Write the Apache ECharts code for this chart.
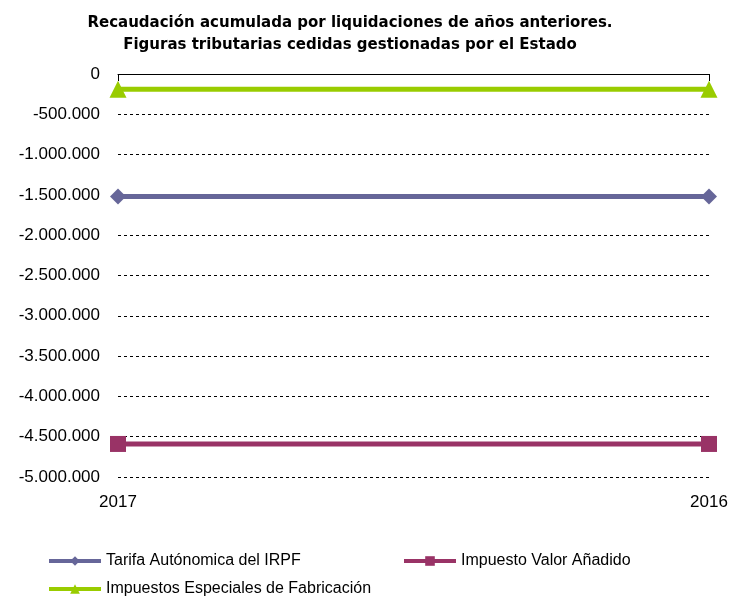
<!DOCTYPE html>
<html>
<head>
<meta charset="utf-8">
<script src="https://cdn.jsdelivr.net/npm/echarts@6/dist/echarts.min.js"></script>
<style>
  html, body { margin: 0; padding: 0; background: #fff; }
  #chart { width: 731px; height: 598px; }
</style>
</head>
<body>
<div id="chart"></div>
<script>
var years = ['2017', '2016'];
var irpf = [-1520000, -1520000];
var iva = [-4590000, -4590000];
var ief = [-190000, -190000];
var names = ['Tarifa Autónomica del IRPF', 'Impuesto Valor Añadido', 'Impuestos Especiales de Fabricación'];

var font = 'Liberation Sans, Arial, sans-serif';

// miles con punto
function fmt(v) {
    var s = String(Math.abs(v)).replace(/\B(?=(\d{3})+(?!\d))/g, '.');
    return (v < 0 ? '-' : '') + s;
}

function legendAt(name, left, top) {
    return {
        data: [name],
        left: left,
        top: top,
        padding: 0,
        itemWidth: 52,
        itemHeight: 12,
        itemGap: 0,
        lineStyle: { width: 4 },
        textStyle: { fontFamily: font, fontSize: 16, color: '#000', padding: [0, 0, 0, 0] }
    };
}

var chart = echarts.init(document.getElementById('chart'));
var option = {
    animation: false,
    title: {
        text: 'Recaudación acumulada por liquidaciones de años anteriores.\nFiguras tributarias cedidas gestionadas por el Estado',
        left: 345,
        top: 7,
        textAlign: 'center',
        textStyle: { fontFamily: 'DejaVu Sans, sans-serif', fontSize: 15, fontWeight: 'bold', color: '#000', lineHeight: 22 }
    },
    legend: [
        legendAt(names[0], 47, 553),
        legendAt(names[1], 402, 553),
        legendAt(names[2], 47, 581)
    ],
    grid: { left: 118, right: 22, top: 74, bottom: 121 },
    xAxis: [{
        type: 'category',
        data: years,
        boundaryGap: false,
        axisLine: { onZero: true, lineStyle: { color: '#000', width: 1 } },
        axisTick: { show: true, length: 7, lineStyle: { color: '#000' } },
        axisLabel: { show: false },
        z: 5
    }, {
        type: 'category',
        data: years,
        boundaryGap: false,
        position: 'bottom',
        axisLine: { show: false, onZero: false },
        axisTick: { show: false },
        axisLabel: { margin: 17, fontFamily: font, fontSize: 17, color: '#000' }
    }],
    yAxis: {
        type: 'value',
        min: -5000000,
        max: 0,
        interval: 500000,
        axisLine: { show: false },
        axisTick: { show: false },
        axisLabel: { margin: 18, fontFamily: font, fontSize: 17, color: '#000', formatter: fmt },
        splitLine: { lineStyle: { color: '#000', type: [3, 3], width: 1 } }
    },
    series: [{
        name: names[0],
        type: 'line',
        data: irpf,
        symbol: 'diamond',
        symbolSize: 16,
        color: '#666699',
        lineStyle: { width: 5 },
        z: 3
    }, {
        name: names[1],
        type: 'line',
        data: iva,
        symbol: 'rect',
        symbolSize: 16,
        color: '#993366',
        lineStyle: { width: 5 },
        z: 3
    }, {
        name: names[2],
        type: 'line',
        data: ief,
        symbol: 'triangle',
        symbolSize: 17,
        color: '#99CC00',
        lineStyle: { width: 5 },
        z: 3
    }]
};
chart.setOption(option);
</script>
</body>
</html>
